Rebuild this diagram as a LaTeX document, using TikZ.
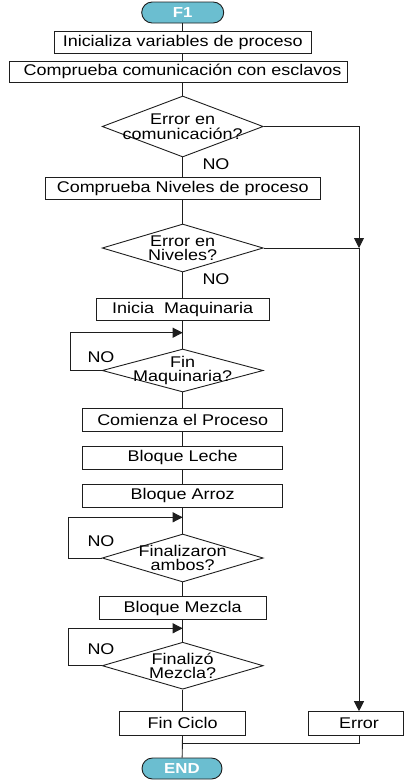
\documentclass[tikz,border=0pt]{standalone}
\usepackage{fontspec}
\setmainfont{Liberation Sans}[FakeStretch=1.16]
\usetikzlibrary{shapes.geometric,arrows.meta}
\definecolor{termfill}{RGB}{107,190,208}
\definecolor{linecol}{RGB}{30,30,30}
\begin{document}
\begin{tikzpicture}[x=1pt,y=-1pt,
  every node/.style={font=\fontsize{15.5}{14.5}\selectfont, inner sep=0pt},
  proc/.style={draw=linecol, rectangle, line width=0.9pt, minimum height=22pt},
  decision/.style={draw=linecol, diamond, line width=0.9pt, minimum width=161pt},
  dtext/.style={align=center},
  term/.style={draw=linecol, fill=termfill, line width=0.9pt, text=white,
    font=\fontsize{14.5}{14}\selectfont\bfseries, minimum height=21pt, rounded corners=10.5pt},
  link/.style={draw=linecol, line width=0.9pt},
  arr/.style={link, -{Triangle[length=10pt,width=10pt]}}
]
\useasboundingbox (0,0) rectangle (404,780);

% main column
\node[term, minimum width=82pt] (F1) at (182.7,12.5) {F1};
\node[proc, minimum width=257pt] (B1) at (182.7,42) {Inicializa variables de proceso};
\node[proc, minimum width=338pt, minimum height=21pt] (B2) at (178,71.5) {\hspace*{9pt}Comprueba comunicación con esclavos};
\node[decision, minimum height=61pt, label={[dtext]center:Error en\\comunicación?}] (D1) at (182.7,126.5) {};
\node[proc, minimum width=275pt] (B3) at (182.7,188) {Comprueba Niveles de proceso};
\node[decision, minimum height=48pt, label={[dtext]center:Error en\\Niveles?}] (D2) at (182.7,248) {};
\node[proc, minimum width=173pt] (B4) at (182.7,309) {Inicia~~Maquinaria};
\node[decision, minimum height=43pt, label={[dtext]center:Fin\\Maquinaria?}] (D3) at (182.7,370.5) {};
\node[proc, minimum width=200pt, minimum height=23pt] (B5) at (182.7,420) {Comienza el Proceso};
\node[proc, minimum width=200pt, minimum height=23pt] (B6) at (182.7,457.7) {Bloque Leche};
\node[proc, minimum width=200pt, minimum height=23pt] (B7) at (182.7,495.8) {Bloque Arroz};
\node[decision, minimum height=48pt, label={[dtext]center:Finalizaron\\ambos?}] (D4) at (182.7,558) {};
\node[proc, minimum width=167pt, minimum height=22.6pt] (B8) at (182.7,608) {Bloque Mezcla};
\node[decision, minimum height=47pt, label={[dtext]center:Finalizó\\Mezcla?}] (D5) at (182.7,665.7) {};
\node[proc, minimum width=126pt, minimum height=23.3pt] (B9) at (182.7,723.3) {Fin Ciclo};
\node[proc, minimum width=95pt, minimum height=23.3pt] (Err) at (355.5,723.3) {\hspace*{7pt}Error};
\node[term, minimum width=80pt] (END) at (182,768.5) {END};

% answer labels
\node (no1) at (216,164) {NO};
\node (no2) at (216,279) {NO};
\node (no3) at (101,356.7) {NO};
\node (no4) at (101,541.3) {NO};
\node (no5) at (101,649.5) {NO};

% junction points
\coordinate (E1) at (359,126.5);
\coordinate (E2) at (359,248);
\coordinate (J3) at (182.7,332.7);
\coordinate (K3) at (70,332.7);
\coordinate (J4) at (182.7,517.3);
\coordinate (K4) at (68,517.3);
\coordinate (J5) at (182.7,628.3);
\coordinate (K5) at (68,628.3);
\coordinate (M) at (182.7,743);

% spine
\draw[link] (F1) -- (B1);
\draw[link] (B1.south) -- (B1.south |- B2.north);
\draw[link] (D1.north |- B2.south) -- (D1.north);
\draw[link] (D1) -- (B3);
\draw[link] (B3) -- (D2);
\draw[link] (D2) -- (B4);
\draw[link] (B4) -- (D3);
\draw[link] (D3) -- (B5);
\draw[link] (B5) -- (B6);
\draw[link] (B6) -- (B7);
\draw[link] (B7) -- (D4);
\draw[link] (D4) -- (B8);
\draw[link] (B8) -- (D5);
\draw[link] (D5) -- (B9);
\draw[link] (B9) -- (END);

% waiting loops
\draw[arr] (D3.west) -| (K3) -- (J3);
\draw[arr] (D4.west) -| (K4) -- (J4);
\draw[arr] (D5.west) -| (K5) -- (J5);

% error branch
\draw[arr] (D1.east) -- (E1) -- (E2);
\draw[link] (D2.east) -- (E2);
\draw[arr] (E2) -- (Err.north -| E2);
\draw[link] (Err.south -| E2) |- (M);
\end{tikzpicture}
\end{document}
